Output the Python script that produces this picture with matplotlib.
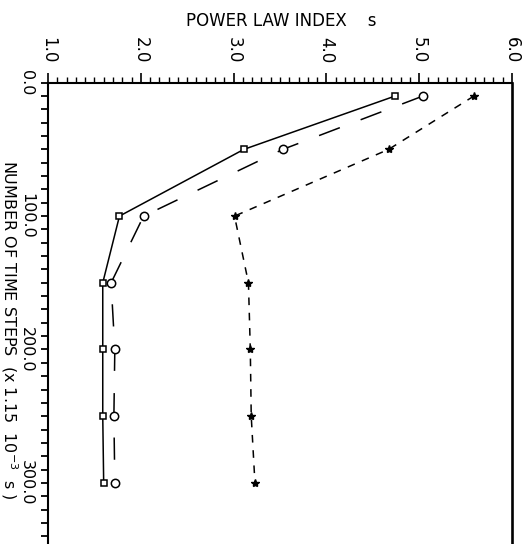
import matplotlib
matplotlib.use("Agg")
import matplotlib.pyplot as plt
from matplotlib.ticker import MultipleLocator, FormatStrFormatter

# time steps (x 1.15e-3 s)
steps = [10, 50, 100, 150, 200, 250, 300]

# power law index s for the three runs
s_square = [4.74, 3.11, 1.77, 1.59, 1.59, 1.59, 1.60]
s_circle = [5.04, 3.53, 2.03, 1.68, 1.72, 1.71, 1.72]
s_star = [5.59, 4.67, 3.01, 3.16, 3.18, 3.19, 3.23]

plt.rcParams['font.family'] = 'DejaVu Sans'
plt.rcParams['lines.scale_dashes'] = False

W, H = 523, 544
fig = plt.figure(figsize=(W / 100, H / 100), dpi=100)
# the chart is drawn turned on its side: s runs along the top, time runs down
top_px, left_px, right_px = 82.7, 48, 512
px_per_step = 1.334
ymax = 350
ax = fig.add_axes([left_px / W, 1 - (top_px + ymax * px_per_step) / H,
                   (right_px - left_px) / W, ymax * px_per_step / H])

ax.plot(s_square, steps, color='black', lw=1.1, marker='s', ms=5,
        mfc='white', mec='black', mew=1.1)
ax.plot(s_circle, steps, color='black', lw=1.1, dashes=(16, 16), marker='o',
        ms=6, mfc='white', mec='black', mew=1.1)
ax.plot(s_star, steps, color='black', lw=1.1, dashes=(5.5, 5.5), marker='*',
        ms=6, mfc='black', mec='black')

ax.set_xlim(1.0, 6.0)
ax.set_ylim(ymax, 0)

ax.xaxis.tick_top()
ax.xaxis.set_major_locator(MultipleLocator(1.0))
ax.xaxis.set_minor_locator(MultipleLocator(0.1))
ax.xaxis.set_major_formatter(FormatStrFormatter('%.1f'))
ax.yaxis.set_major_locator(MultipleLocator(100))
ax.yaxis.set_minor_locator(MultipleLocator(10))
ax.yaxis.set_major_formatter(FormatStrFormatter('%.1f'))

ax.tick_params(axis='x', which='major', direction='out', length=7, width=1.2,
               pad=7, labelsize=12, labelrotation=-90)
ax.tick_params(axis='x', which='minor', direction='out', length=4, width=1.0)
ax.tick_params(axis='y', which='both', direction='out', length=5, width=1.3,
               pad=5, labelsize=11.5, labelrotation=-90)
for lab in ax.get_xticklabels():
    lab.set_va('bottom')
    lab.set_ha('center')
for lab in ax.get_yticklabels():
    lab.set_va('center')
    lab.set_ha('right')

for side, lw in [('left', 1.5), ('top', 1.5), ('right', 1.9)]:
    ax.spines[side].set_linewidth(lw)
ax.spines['bottom'].set_visible(False)

fig.text(281 / W, 1 - 21.5 / H, 'POWER LAW INDEX    s', ha='center', va='center',
         fontsize=12)
fig.text(9 / W, 1 - 330 / H, r'NUMBER OF TIME STEPS  (x 1.15  10$^{-3}$  s )',
         ha='center', va='center', rotation=-90, fontsize=11.5)

fig.savefig('out.png', dpi=100)
